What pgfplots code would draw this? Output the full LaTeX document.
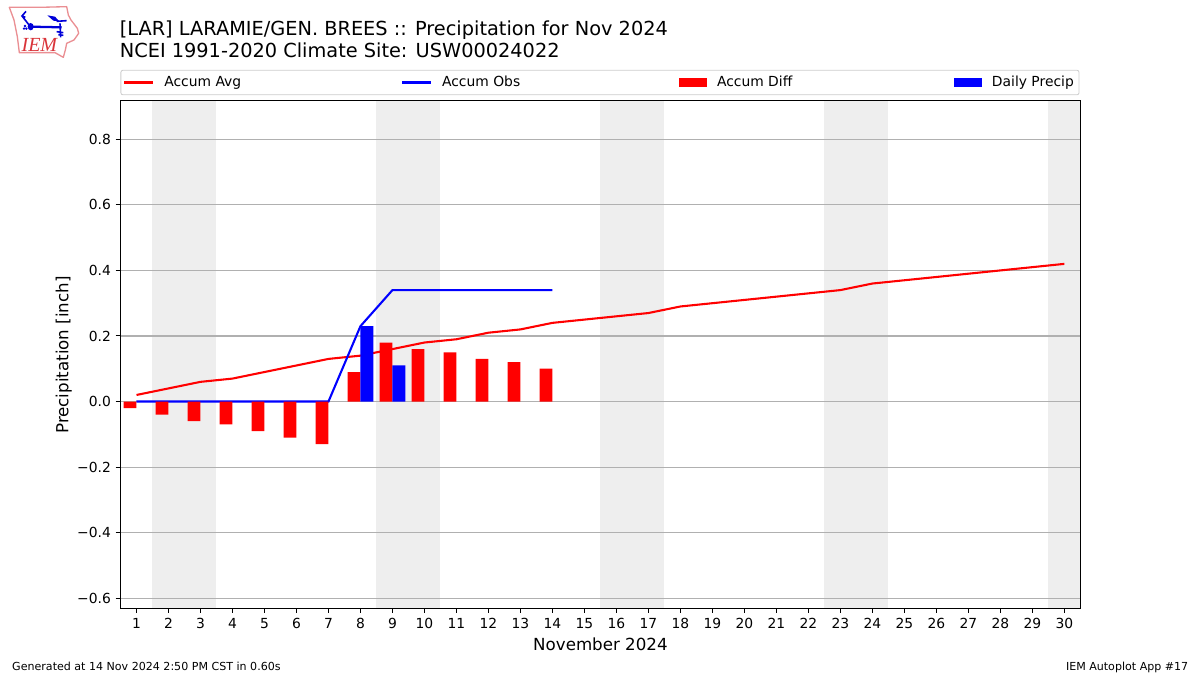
\documentclass[border=0pt]{standalone}
\usepackage{fontspec}
\setmainfont{DejaVu Sans}
\newfontfamily\logofont{Liberation Serif}
\usepackage{pgfplots}
\pgfplotsset{compat=1.18}
\definecolor{wkend}{HTML}{EEEEEE}
\definecolor{gridc}{HTML}{B0B0B0}
\definecolor{legc}{HTML}{CCCCCC}
\definecolor{logor}{HTML}{D9343A}
\pgfplotsset{
  lineleg/.style={legend image code/.code={\draw[##1,line width=1.56pt,sharp corners] (0pt,0pt)--(21.6pt,0pt);}},
  barleg/.style={legend image code/.code={\fill[##1,sharp corners] (0pt,-3.6pt) rectangle (21pt,3.6pt);}}
}
\begin{document}
\begin{tikzpicture}
\begin{axis}[
  axis on top,
  at={(0pt,0pt)},anchor=south west,
  scale only axis,width=719.9pt,height=381pt,
  xmin=0.5,xmax=30.5,ymin=-0.63,ymax=0.92,
  axis line style={black,line width=0.72pt},
  xtick={1,2,...,30},
  ytick={-0.6,-0.4,-0.2,0,0.2,0.4,0.6,0.8},
  yticklabels={−0.6,−0.4,−0.2,0.0,0.2,0.4,0.6,0.8},
  /pgf/number format/assume math mode=true,
  tick align=outside,tick pos=left,
  major tick length=3.65pt,
  tick style={black,line width=0.75pt},
  ticklabel style={font=\fontsize{10.4}{12}\selectfont},
  xticklabel style={yshift=-0.5pt},
  xlabel={November 2024},
  ylabel={Precipitation [inch]},
  label style={font=\fontsize{12.5}{15}\selectfont},
  xlabel style={at={(axis description cs:0.5,0)},anchor=north,yshift=-18.5pt},
  ylabel style={at={(axis description cs:0,0.498)},anchor=south,yshift=33pt},
  title={[LAR] LARAMIE/GEN. BREES :: Precipitation for Nov 2024\\NCEI 1991-2020 Climate Site: USW00024022},
  title style={at={(axis description cs:0,1)},anchor=south west,align=left,
    font=\fontsize{14.5}{16.6}\selectfont,inner sep=0pt,yshift=25.5pt,xshift=-0.7pt},
  legend columns=4,
  legend style={at={(axis description cs:0,1)},anchor=south west,yshift=3.6pt,
    draw=legc,rounded corners=1.5pt,line width=0.6pt,
    font=\fontsize{10.4}{12}\selectfont,inner xsep=1.9pt,inner ysep=2.5pt,
    /tikz/every even column/.append style={column sep=0pt}},
]
\addplot[fill=wkend,draw=none,forget plot] coordinates {(1.5,-0.63)(3.5,-0.63)(3.5,0.92)(1.5,0.92)} -- cycle;
\addplot[fill=wkend,draw=none,forget plot] coordinates {(8.5,-0.63)(10.5,-0.63)(10.5,0.92)(8.5,0.92)} -- cycle;
\addplot[fill=wkend,draw=none,forget plot] coordinates {(15.5,-0.63)(17.5,-0.63)(17.5,0.92)(15.5,0.92)} -- cycle;
\addplot[fill=wkend,draw=none,forget plot] coordinates {(22.5,-0.63)(24.5,-0.63)(24.5,0.92)(22.5,0.92)} -- cycle;
\addplot[fill=wkend,draw=none,forget plot] coordinates {(29.5,-0.63)(30.5,-0.63)(30.5,0.92)(29.5,0.92)} -- cycle;
\addplot[gridc,line width=0.83pt,forget plot] coordinates {(0.5,-0.6)(30.5,-0.6)};
\addplot[gridc,line width=0.83pt,forget plot] coordinates {(0.5,-0.4)(30.5,-0.4)};
\addplot[gridc,line width=0.83pt,forget plot] coordinates {(0.5,-0.2)(30.5,-0.2)};
\addplot[gridc,line width=0.83pt,forget plot] coordinates {(0.5,0)(30.5,0)};
\addplot[gridc,line width=0.83pt,forget plot] coordinates {(0.5,0.2)(30.5,0.2)};
\addplot[gridc,line width=0.83pt,forget plot] coordinates {(0.5,0.4)(30.5,0.4)};
\addplot[gridc,line width=0.83pt,forget plot] coordinates {(0.5,0.6)(30.5,0.6)};
\addplot[gridc,line width=0.83pt,forget plot] coordinates {(0.5,0.8)(30.5,0.8)};
\addplot[red,line width=1.56pt,lineleg] coordinates {
(1,0.02)(2,0.04)(3,0.06)(4,0.07)(5,0.09)(6,0.11)(7,0.13)(8,0.14)(9,0.16)(10,0.18)
(11,0.19)(12,0.21)(13,0.22)(14,0.24)(15,0.25)(16,0.26)(17,0.27)(18,0.29)(19,0.30)(20,0.31)
(21,0.32)(22,0.33)(23,0.34)(24,0.36)(25,0.37)(26,0.38)(27,0.39)(28,0.40)(29,0.41)(30,0.42)};
\addlegendentry{\makebox[181.2pt][l]{\hspace*{5.5pt}Accum Avg}}
\addplot[blue,line width=1.56pt,lineleg] coordinates {
(1,0)(2,0)(3,0)(4,0)(5,0)(6,0)(7,0)(8,0.23)(9,0.34)(10,0.34)(11,0.34)(12,0.34)(13,0.34)(14,0.34)};
\addlegendentry{\makebox[181.2pt][l]{\hspace*{5.5pt}Accum Obs}}
\addplot[ybar,bar width=9.6pt,bar shift=-4.8pt,fill=red,draw=none,barleg] coordinates {
(1,-0.02)(2,-0.04)(3,-0.06)(4,-0.07)(5,-0.09)(6,-0.11)(7,-0.13)(8,0.09)(9,0.18)(10,0.16)(11,0.15)(12,0.13)(13,0.12)(14,0.10)};
\addlegendentry{\makebox[181.2pt][l]{\hspace*{5.5pt}Accum Diff}}
\addplot[ybar,bar width=9.6pt,bar shift=4.8pt,fill=blue,draw=none,barleg] coordinates {
(8,0.23)(9,0.11)};
\addlegendentry{\hspace*{5.5pt}Daily Precip}
\end{axis}
\path[use as bounding box] (-90.375pt,-50.25pt) rectangle (809.625pt,456pt);
\node[anchor=base west,inner sep=0pt,font=\fontsize{8.3}{10}\selectfont] at (-81.4pt,-46.9pt) {Generated at 14 Nov 2024 2:50 PM CST in 0.60s};
\node[anchor=base east,inner sep=0pt,font=\fontsize{8.3}{10}\selectfont] at (801pt,-46.9pt) {IEM Autoplot App \#17};
\begin{scope}[shift={(-90.375pt,456pt)},x=0.25pt,y=-0.25pt]
\draw[logor!55,line width=1pt,line join=round] (28,22)--(120,22)--(200,20)--(205,45)--(213,60)--(232,85)--(236,100)--(222,120)--(200,130)--(196,150)--(190,172)--(165,158)--(58,158)--(52,110)--(42,60)--cycle;
\draw[blue!85!black,line width=1.7pt] (90,80)--(185,82);
\fill[blue!85!black] (92,80) ellipse (9 and 11);
\fill[blue!85!black] (142,46)--(165,50)--(178,64)--(160,62)--cycle;
\draw[blue!85!black,line width=1.2pt] (170,64)--(200,62);
\draw[blue!85!black,line width=1.2pt] (88,76)--(66,48)--(78,34) (66,48)--(76,52);
\draw[blue!85!black,line width=1.2pt] (180,70)--(182,112) (170,95)--(190,98) (175,104)--(190,106);
\fill[blue!85!black] (72,86) circle (4) (79,86) circle (4) (75,78) circle (4);
\node[anchor=base west,inner sep=0pt,text=logor,font=\logofont\itshape\fontsize{15}{15}\selectfont] at (64,155) {IEM};
\end{scope}
\end{tikzpicture}
\end{document}
